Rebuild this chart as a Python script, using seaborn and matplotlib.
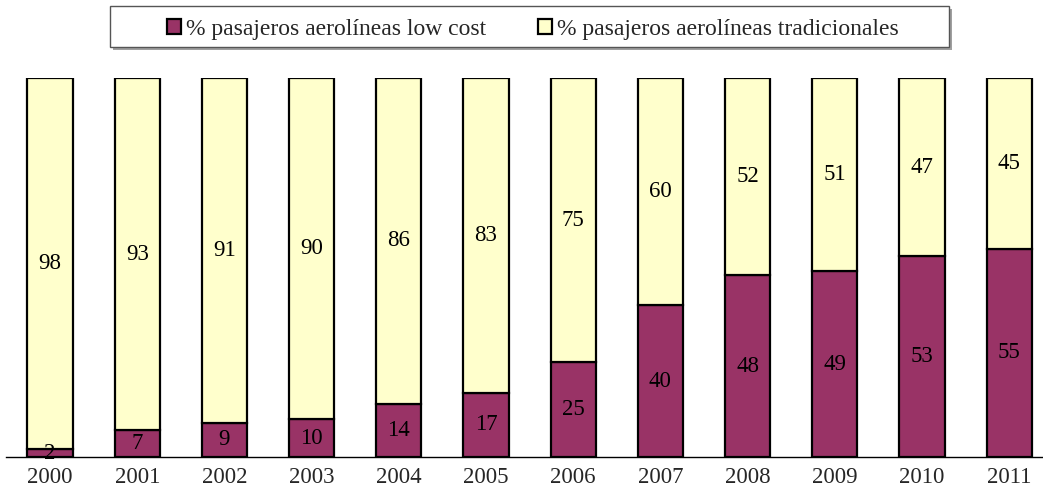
import matplotlib
matplotlib.use("Agg")
import matplotlib.pyplot as plt
import seaborn as sns
import pandas as pd
from matplotlib.patches import Patch, Rectangle

years = ["2000", "2001", "2002", "2003", "2004", "2005", "2006", "2007", "2008", "2009", "2010", "2011"]
low_cost = [2, 7, 9, 10, 14, 17, 25, 40, 48, 49, 53, 55]
tradicionales = [98, 93, 91, 90, 86, 83, 75, 60, 52, 51, 47, 45]
series_names = ["% pasajeros aerolíneas low cost", "% pasajeros aerolíneas tradicionales"]

c_low = "#993366"
c_trad = "#FFFFCC"

sns.set_theme(style="white")
plt.rcParams['font.family'] = ['Liberation Serif', 'DejaVu Serif']

W, H = 1043, 494
fig = plt.figure(figsize=(W / 100, H / 100), dpi=100)
ax = fig.add_axes([6.4 / W, 37 / H, 1046.4 / W, 379 / H])

df = pd.DataFrame({"year": years, "low": low_cost, "trad": tradicionales})

sns.barplot(data=df, x="year", y="low", color=c_low, saturation=1, width=0.52,
            edgecolor="black", linewidth=1.6, ax=ax)
sns.barplot(data=df, x="year", y="trad", bottom=df["low"], color=c_trad, saturation=1,
            width=0.52, edgecolor="black", linewidth=1.6, ax=ax)

for i, (l, t) in enumerate(zip(low_cost, tradicionales)):
    ax.text(i, l / 2, str(l), ha="center", va="center", fontsize=16.5, color="black")
    ax.text(i, l + t / 2, str(t), ha="center", va="center", fontsize=16.5, color="black")

ax.set_xlim(-0.5, 11.5)
ax.set_ylim(0, 100)
ax.set_xlabel("")
ax.set_ylabel("")
ax.set_yticks([])
ax.tick_params(axis="x", length=0, pad=7, labelsize=16.5)
for s in ["top", "right", "left"]:
    ax.spines[s].set_visible(False)
ax.spines["bottom"].set_color("black")
ax.spines["bottom"].set_linewidth(1.0)

# legend box with shadow (figure coordinates)
bx0, bx1, by0, by1 = 110, 949, 6, 47
fig.patches.append(Rectangle(((bx0 + 3) / W, 1 - (by1 + 3) / H), (bx1 - bx0) / W, (by1 - by0) / H,
                             transform=fig.transFigure, facecolor="#A0A0A0", edgecolor="none", zorder=1))
fig.patches.append(Rectangle((bx0 / W, 1 - by1 / H), (bx1 - bx0) / W, (by1 - by0) / H,
                             transform=fig.transFigure, facecolor="white", edgecolor="#555555",
                             linewidth=1.0, zorder=2))

handles = [Patch(facecolor=c_low, edgecolor="black", linewidth=1.6),
           Patch(facecolor=c_trad, edgecolor="black", linewidth=1.6)]
leg = fig.legend(handles, series_names, loc="center", bbox_to_anchor=(533 / W, 1 - 29.5 / H),
                 ncol=2, frameon=False, fontsize=17,
                 handlelength=0.6, handleheight=0.6, handletextpad=0.2, columnspacing=2.2,
                 borderpad=0.2)
leg.set_zorder(5)

fig.savefig("out.png", dpi=100)
